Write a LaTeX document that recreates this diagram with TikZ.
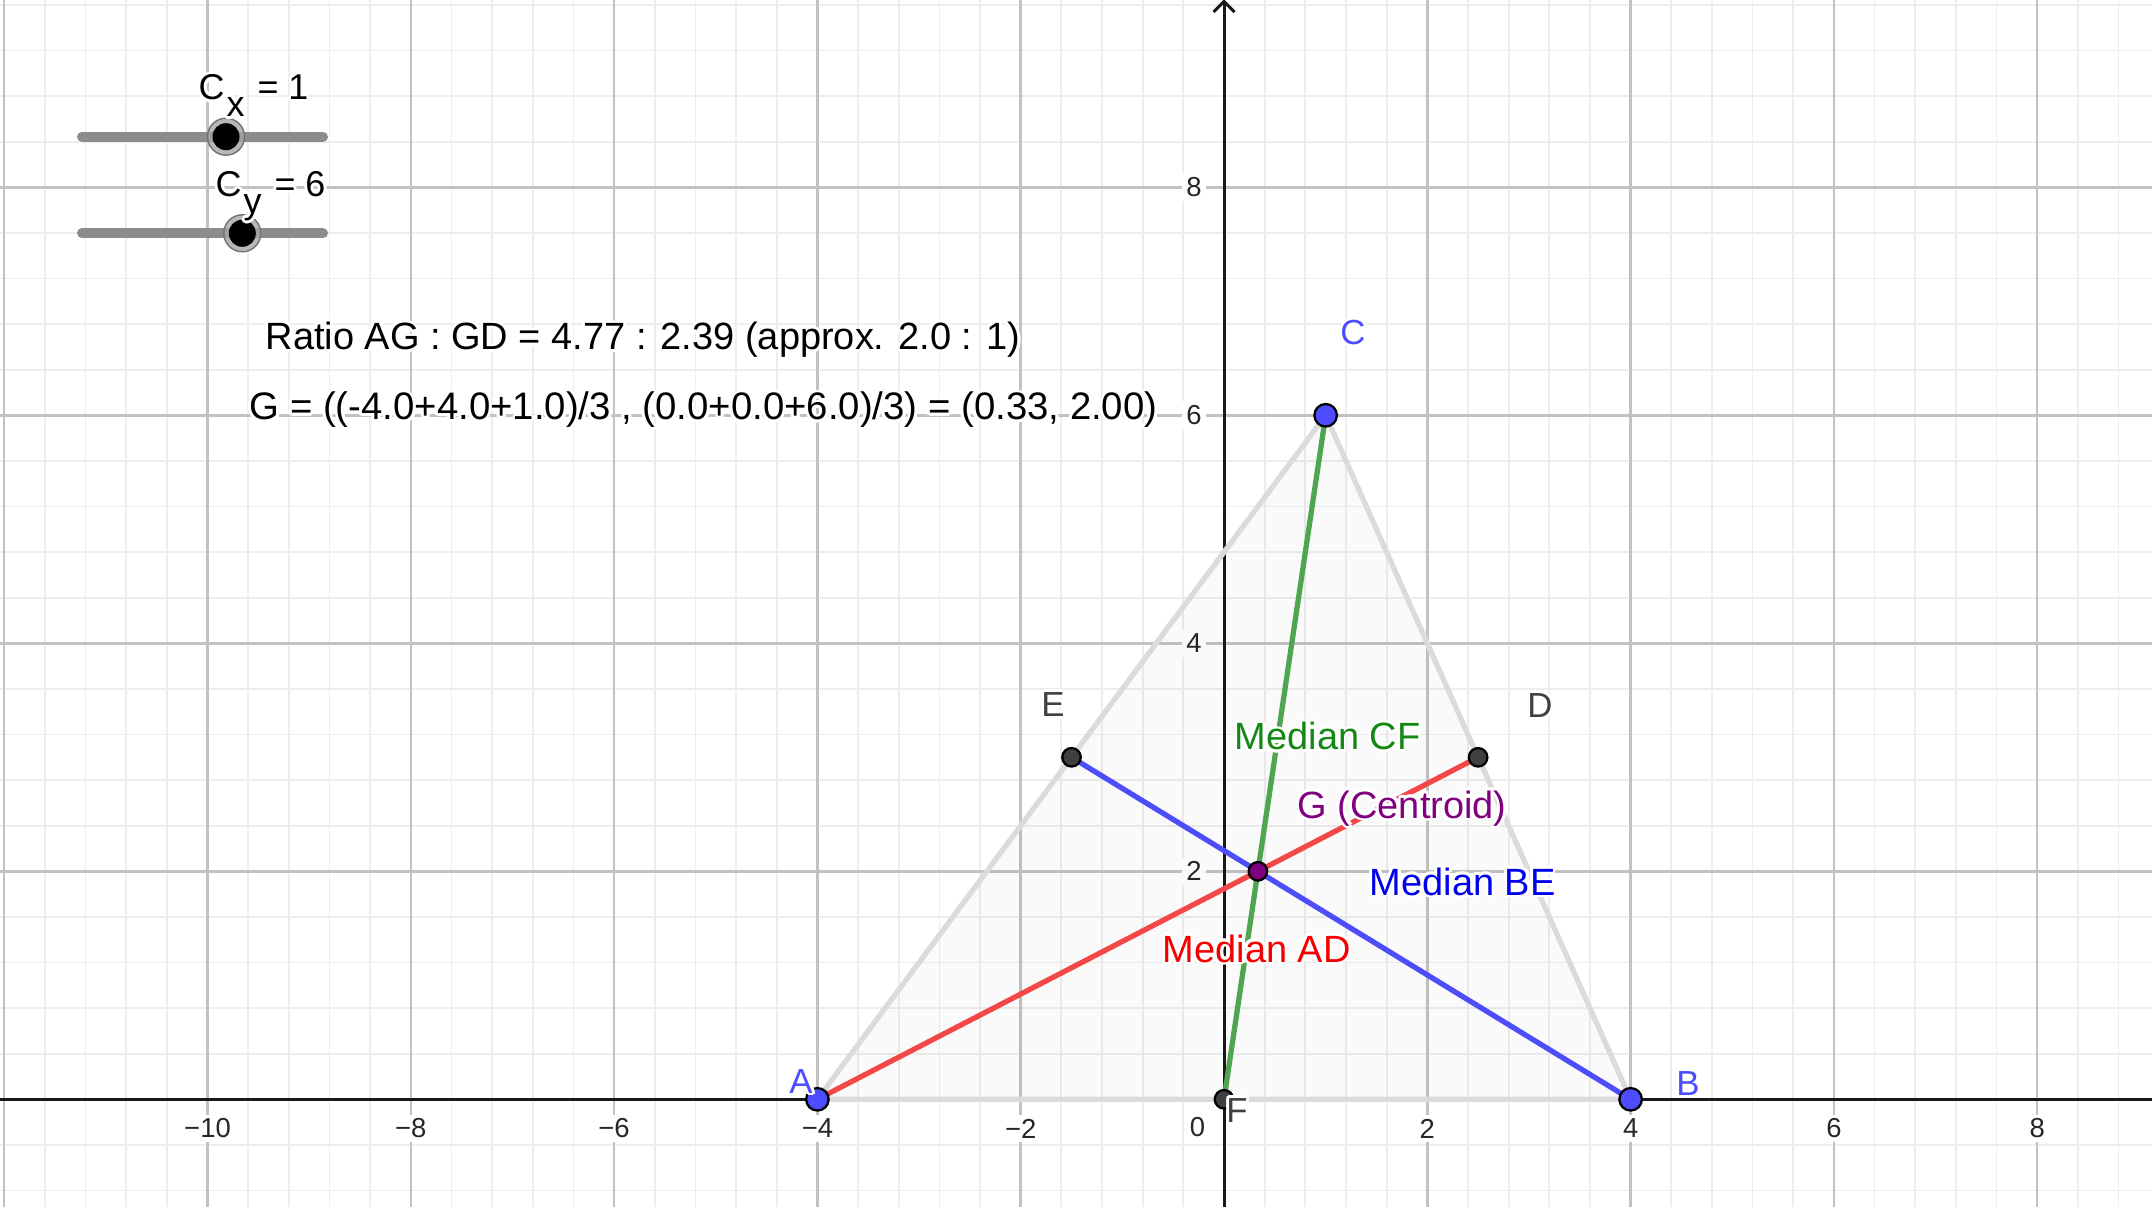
\documentclass[tikz,border=0pt]{standalone}
\usepackage{fontspec}
\setmainfont{Liberation Sans}
\usepackage{contour}
\contourlength{0.8pt}
\definecolor{ptblue}{RGB}{77,77,255}
\definecolor{ptgray}{RGB}{64,64,64}
\definecolor{medred}{RGB}{244,72,72}
\definecolor{medblue}{RGB}{77,77,250}
\definecolor{medgreen}{RGB}{80,165,80}
\definecolor{txtred}{RGB}{245,0,0}
\definecolor{txtblue}{RGB}{0,0,235}
\definecolor{txtgreen}{RGB}{20,135,20}
\definecolor{txtpurple}{RGB}{128,0,128}
\tikzset{
  minorgrid/.style={draw=black!7, line width=0.5pt},
  majorgrid/.style={draw=black!24, line width=0.7pt},
  axisline/.style={draw=black!90, line width=0.85pt},
  ticklbl/.style={font=\fontsize{7.8pt}{9pt}\selectfont, text=black!85, fill=white, inner sep=1.2pt},
  triedge/.style={draw=black!14, line width=1.5pt, line join=round},
  median/.style={line width=1.5pt},
  ptbig/.style={circle, inner sep=0pt, minimum size=0.225cm, fill=ptblue, draw=black, line width=0.65pt},
  ptsmall/.style={circle, inner sep=0pt, minimum size=0.185cm, fill=ptgray, draw=black, line width=0.65pt},
  txt/.style={inner sep=0pt, anchor=base west, font=\fontsize{10.8pt}{13pt}\selectfont},
  ptlbl/.style={inner sep=0pt, anchor=base, font=\fontsize{9.9pt}{12pt}\selectfont},
  sliderlbl/.style={inner sep=0pt, anchor=base west, font=\fontsize{10.2pt}{12pt}\selectfont},
  sliderbar/.style={draw=black!45, line width=0.1cm, line cap=round},
  knobring/.style={fill=black!35, draw=black!55, line width=0.4pt, fill opacity=0.8},
}
\begin{document}
\begin{tikzpicture}[x=0.01cm, y=-0.01cm]
\useasboundingbox (0,0) rectangle (2152,1207);
\fill[white] (0,0) rectangle (2152,1207);
% minor grid (every 0.4 units)
\foreach \i in {-30,...,22} {
  \pgfmathsetmacro{\xx}{1224+40.66*\i}
  \draw[minorgrid] (\xx,0) -- (\xx,1207);
}
\foreach \j in {-2,...,24} {
  \pgfmathsetmacro{\yy}{1099.3-45.6*\j}
  \draw[minorgrid] (0,\yy) -- (2152,\yy);
}
% major grid (every 2 units)
\foreach \i in {-6,...,4} {
  \pgfmathsetmacro{\xx}{1224+203.3*\i}
  \draw[majorgrid] (\xx,0) -- (\xx,1207);
}
\foreach \j in {1,...,4} {
  \pgfmathsetmacro{\yy}{1099.3-228*\j}
  \draw[majorgrid] (0,\yy) -- (2152,\yy);
}
% axes
\draw[axisline] (0,1099.3) -- (2152,1099.3);
\draw[axisline] (1224,1207) -- (1224,1.5);
\draw[axisline, line join=miter] (1213.5,12) -- (1224,1.5) -- (1234.5,12);
% tick labels
\foreach \v/\t in {-10/−10,-8/−8,-6/−6,-4/−4,-2/−2,2/2,4/4,6/6,8/8}
  \node[ticklbl] (tx\v) at ({1224+101.65*\v},1128.5) {\t};
\foreach \v in {2,4,6,8}
  \node[ticklbl, anchor=east] (ty\v) at (1206.5,{1099.3-114*\v}) {\v};
\node[ticklbl] (t0) at (1197.5,1127.5) {0};
% points
\coordinate (A) at (817.4,1099.3);
\coordinate (B) at (1630.6,1099.3);
\coordinate (C) at (1325.65,415.3);
\coordinate (D) at (1478.1,757.3);
\coordinate (E) at (1071.5,757.3);
\coordinate (F) at (1224,1099.3);
\coordinate (G) at (1257.9,871.3);
% triangle
\fill[black, opacity=0.02] (A) -- (B) -- (C) -- cycle;
\draw[triedge] (A) -- (B) -- (C) -- cycle;
% medians
\draw[median, medred] (A) -- (D);
\draw[median, medblue] (B) -- (E);
\draw[median, medgreen] (C) -- (F);
% point markers
\node[ptbig] (pA) at (A) {};
\node[ptbig] (pB) at (B) {};
\node[ptbig] (pC) at (C) {};
\node[ptsmall] (pD) at (D) {};
\node[ptsmall] (pE) at (E) {};
\node[ptsmall] (pF) at (F) {};
\node[ptsmall, fill=txtpurple] (pG) at (G) {};
% point labels
\node[ptlbl, text=ptblue] (lA) at (801,1093) {\contour{white}{A}};
\node[ptlbl, text=ptblue] (lB) at (1688,1095) {\contour{white}{B}};
\node[ptlbl, text=ptblue] (lC) at (1353,345) {\contour{white}{C}};
\node[ptlbl, text=ptgray] (lD) at (1540,718) {\contour{white}{D}};
\node[ptlbl, text=ptgray] (lE) at (1053,716.5) {\contour{white}{E}};
\node[ptlbl, text=ptgray] (lF) at (1237,1122) {\contour{white}{F}};
% median texts
\node[txt, text=txtgreen] (tCF) at (1234,750) {\contour{white}{Median CF}};
\node[txt, text=txtpurple] (tG) at (1297,818) {\contour{white}{G (Centroid)}};
\node[txt, text=txtblue] (tBE) at (1369,895) {\contour{white}{Median BE}};
\node[txt, text=txtred] (tAD) at (1162,962) {\contour{white}{Median AD}};
% info texts
\node[txt] (ratio) at (265,350) {\contour{white}{Ratio AG : GD = 4.77 : 2.39 (approx. 2.0 : 1)}};
\node[txt, font=\fontsize{10.9pt}{13pt}\selectfont] (gform) at (249,420) {\contour{white}{G = ((-4.0+4.0+1.0)/3 , (0.0+0.0+6.0)/3) = (0.33, 2.00)}};
% sliders
\draw[sliderbar] (82,136.7) -- (323,136.7);
\draw[sliderbar] (82,233.3) -- (323,233.3);
\fill[knobring] (226,136.7) circle[radius=0.185cm];
\fill[black] (226,136.7) circle[radius=0.135cm];
\fill[knobring] (242.3,233.3) circle[radius=0.185cm];
\fill[black] (242.3,233.3) circle[radius=0.135cm];
\node[sliderlbl] (cx) at (198,100) {\contour{white}{C\hspace{0.02cm}\raisebox{-0.167cm}{x}\hspace{0.03cm} = 1}};
\node[sliderlbl] (cy) at (215,196.7) {\contour{white}{C\hspace{0.02cm}\raisebox{-0.167cm}{y}\hspace{0.03cm} = 6}};
\end{tikzpicture}
\end{document}
